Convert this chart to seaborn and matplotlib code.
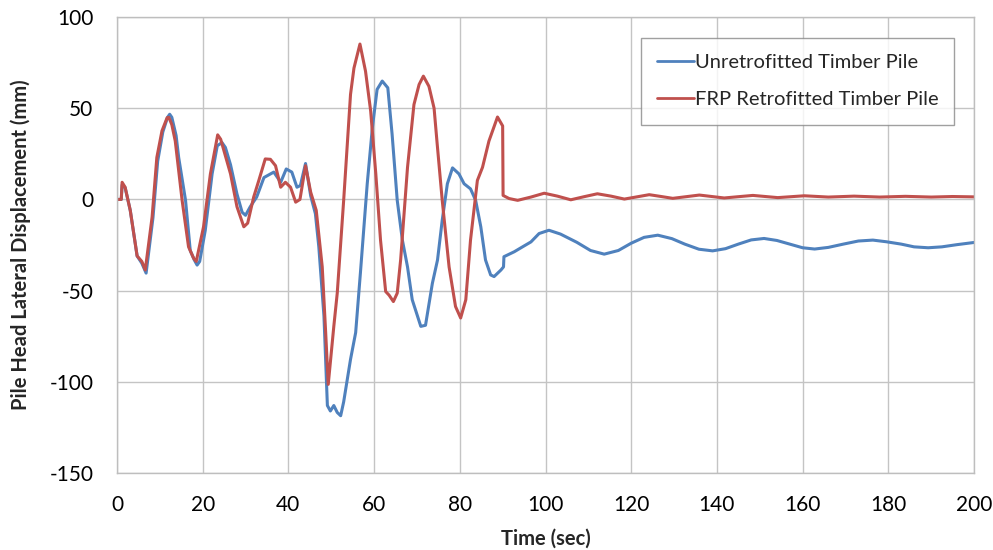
import numpy as np
import pandas as pd
import matplotlib
matplotlib.use("Agg")
import matplotlib.pyplot as plt
import seaborn as sns

# ---- data ----
t_unretro = [0, 1.0, 1.2, 1.9, 3.1, 4.7, 5.8, 6.8, 8.4, 9.5, 10.7, 11.8, 12.3, 12.8, 13.8, 14.4,
             16.0, 17.1, 18.0, 18.7, 19.3, 20.6, 22.2, 23.4, 24.5, 25.3, 26.5, 28.0, 29.2, 30.0,
             31.1, 32.6, 34.3, 36.6, 38.2, 39.5, 40.8, 42.0, 42.8, 44.0, 45.2, 46.3, 47.1, 48.3,
             49.1, 49.8, 50.6, 51.4, 52.2, 52.9, 54.5, 55.7, 56.8, 58.4, 59.6, 60.7, 61.9, 63.2,
             64.2, 65.4, 66.6, 67.8, 68.9, 70.9, 72.0, 73.6, 74.8, 75.9, 77.1, 78.3, 79.8, 81.0,
             82.5, 83.7, 84.9, 86.0, 87.2, 88.0, 89.6, 90.2, 90.3, 92.7, 95.0, 96.6, 98.5, 100.8,
             103.5, 107.3, 110.5, 113.7, 117.0, 120.0, 123.0, 126.2, 129.5, 132.5, 135.8, 139.0,
             142.0, 145.0, 148.0, 151.0, 154.0, 157.0, 160.0, 162.8, 166.0, 169.5, 173.0, 176.4,
             179.5, 183.0, 186.0, 189.3, 192.5, 196.0, 200.0]
v_unretro = [0, 0, 8, 6.5, -6, -31, -35, -40.4, -10, 21, 37, 45, 46.7, 45, 35, 23,
             -0.5, -28, -33, -36, -34, -17, 14, 29.4, 31.2, 28.5, 19, 3, -7, -8.7,
             -4, 1.3, 12, 15, 9.4, 16.7, 15, 6.7, 7.6, 19.7, 2, -7.8, -26, -64,
             -113, -116, -113, -116.8, -118.6, -111, -87.7, -73, -40.5, 8.6, 39.4, 60.3, 64.9, 61.2,
             35.8, -0.5, -22.3, -37, -55, -69.6, -69, -46, -33.2, -11.4, 8.6, 17.3, 14, 8.6,
             5.8, -0.5, -15, -33.2, -41.4, -42.3, -38.7, -37, -31.4, -28.7, -25.5, -23.3, -18.7, -16.9,
             -19, -23.5, -28, -30, -28, -24, -20.8, -19.6, -21.5, -24.5, -27.3, -28.2,
             -27, -24.5, -22.2, -21.4, -22.5, -24.5, -26.5, -27.2, -26.3, -24.5, -22.8, -22.3,
             -23.2, -24.5, -26, -26.5, -26, -24.8, -23.6]

t_frp = [0, 1.0, 1.2, 1.9, 3.1, 4.7, 5.8, 6.6, 8.2, 9.3, 10.5, 11.7, 12.1, 12.8, 13.6, 15.2,
         16.7, 17.9, 18.5, 20.2, 21.8, 23.5, 24.2, 26.5, 28.0, 29.6, 30.5, 31.9, 33.1, 34.6,
         35.8, 37.0, 38.2, 39.3, 40.5, 41.7, 42.7, 44.0, 45.2, 46.5, 47.9, 48.7, 49.3, 50.6,
         51.4, 52.9, 54.5, 55.3, 56.7, 58.0, 59.2, 60.4, 61.5, 62.7, 63.5, 64.5, 65.4, 66.2,
         67.8, 69.3, 70.5, 71.5, 72.8, 74.0, 74.7, 75.9, 77.5, 79.0, 80.2, 81.4, 82.5, 84.1,
         85.3, 86.8, 88.8, 90.0, 90.1, 91.5, 93.5, 96.6, 99.7, 102.8, 105.9, 109.0, 112.1,
         115.3, 118.4, 121.3, 124.2, 127.0, 129.7, 132.8, 135.9, 138.8, 141.7, 145.0, 148.4,
         151.3, 154.2, 157.3, 160.4, 166.0, 172.0, 178.0, 184.0, 190.0, 195.0, 200.0]
v_frp = [0, 0, 9.4, 6.7, -6, -31, -34, -38.7, -9.6, 23, 37.6, 44.8, 45, 41, 32, -0.5,
         -26, -32.3, -34, -15, 14, 35.4, 33, 14, -4, -15, -13, 1.3, 10.4, 22.2,
         22, 18.5, 6.7, 9.4, 6.7, -1.5, 0, 18.5, 4, -6, -37, -73, -101.4, -69.6,
         -51.4, -0.5, 57.6, 72, 85.2, 70.3, 48.5, 14, -22.3, -50.5, -52.5, -56, -51.4, -33,
         17.6, 52, 63, 67.6, 62, 50, 31, -0.5, -37, -58.7, -65, -55, -22.3, 10.4,
         17.6, 32, 45.2, 40.3, 2.2, 0.5, -0.5, 1.3, 3.4, 1.8, -0.2, 1.5, 3.1,
         1.8, 0.2, 1.4, 2.6, 1.6, 0.6, 1.5, 2.4, 1.6, 0.8, 1.5, 2.2,
         1.6, 1.0, 1.5, 2.0, 1.3, 1.8, 1.3, 1.7, 1.3, 1.6, 1.4]

series_names = ["Unretrofitted Timber Pile", "FRP Retrofitted Timber Pile"]
x_ticks = [0, 20, 40, 60, 80, 100, 120, 140, 160, 180, 200]
y_ticks = [-150, -100, -50, 0, 50, 100]

df = pd.concat([
    pd.DataFrame({"t": t_unretro, "v": v_unretro, "s": series_names[0]}),
    pd.DataFrame({"t": t_frp, "v": v_frp, "s": series_names[1]}),
], ignore_index=True)

sns.set_theme(style="white")
plt.rcParams["font.family"] = ["Lato", "DejaVu Sans"]
plt.rcParams["axes.unicode_minus"] = False

fig = plt.figure(figsize=(9.93, 5.5), dpi=100)
ax = fig.add_axes([0.1178, 0.14, 0.8631, 0.829])

palette = {series_names[0]: "#4F81BD", series_names[1]: "#C0504D"}
sns.lineplot(data=df, x="t", y="v", hue="s", palette=palette, sort=False,
             estimator=None, units="s", linewidth=2.2, ax=ax, legend=True)

ax.set_xlim(0, 200)
ax.set_ylim(-150, 100)
ax.set_xticks(x_ticks)
ax.set_yticks(y_ticks)
ax.grid(True, color="#C4C4C4", linewidth=1.0)
ax.set_axisbelow(True)
for sp in ax.spines.values():
    sp.set_color("#BEBEBE")
    sp.set_linewidth(1.0)
ax.tick_params(axis="both", length=0, labelsize=15, colors="#000000")
ax.tick_params(axis="y", pad=17)
ax.tick_params(axis="x", pad=16)

ax.set_xlabel("Time (sec)", fontsize=14.5, fontweight="bold", labelpad=10)
ax.set_ylabel("Pile Head Lateral Displacement (mm)", fontsize=14.5, fontweight="bold", labelpad=13)

leg = ax.legend(loc="upper right", bbox_to_anchor=(0.977, 0.954), fontsize=14.5,
                frameon=True, fancybox=False, handlelength=1.8, handletextpad=0.05,
                borderpad=0.8, labelspacing=1.0, borderaxespad=0)
leg.get_frame().set_edgecolor("#888888")
leg.get_frame().set_linewidth(1.0)
for line in leg.get_lines():
    line.set_linewidth(2.0)

fig.savefig("out.png", dpi=100)
